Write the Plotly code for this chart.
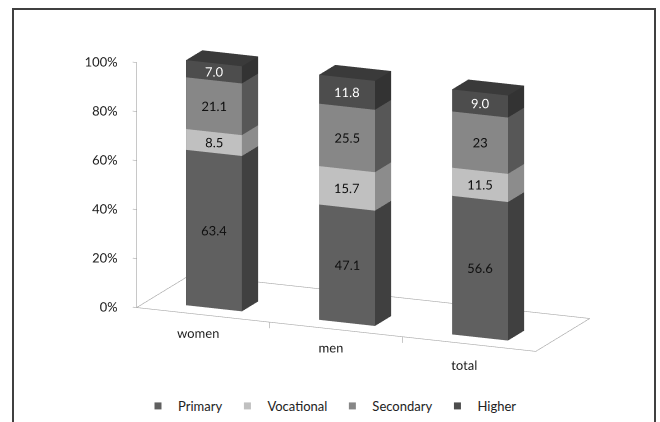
import math
import plotly.graph_objects as go

categories = ["women", "men", "total"]
series_names = ["Primary", "Vocational", "Secondary", "Higher"]
primary = [63.4, 47.1, 56.6]
vocational = [8.5, 15.7, 11.5]
secondary = [21.1, 25.5, 23.0]
higher = [7.0, 11.8, 9.0]
primary_labels = ["63.4", "47.1", "56.6"]
vocational_labels = ["8.5", "15.7", "11.5"]
secondary_labels = ["21.1", "25.5", "23"]
higher_labels = ["7.0", "11.8", "9.0"]
z_ticks = [0, 20, 40, 60, 80, 100]
z_ticktext = ["0%", "20%", "40%", "60%", "80%", "100%"]

series_values = [primary, vocational, secondary, higher]
series_labels = [primary_labels, vocational_labels, secondary_labels, higher_labels]
front_cols = ["#606060", "#c0c0c0", "#878787", "#4d4d4d"]
side_cols = ["#404040", "#8c8c8c", "#575757", "#333333"]
top_cols = ["#505050", "#a8a8a8", "#707070", "#3a3a3a"]
text_cols = ["#111111", "#111111", "#111111", "#ffffff"]

# geometry (styling)
BW = 0.42
Y0, Y1 = 0.2, 0.5
FLOOR_X = (-0.5, 2.5)
FLOOR_Y = (0.0, 1.0)
AX_X = (-0.9, 2.7)
AX_Y = (-0.45, 1.05)
AX_Z = (-4.0, 110.0)
SCALE = (0.728, 0.696, 1.278 / 100)     # normalized units per data unit
THETA, PHI, DIST = 23.0, 15.0, 4.0      # camera azimuth/elevation/distance
TARGET = (0.872, 0.2, 50.0)             # data point at viewport centre
FONT = "Lato"

mids = [(AX_X[0] + AX_X[1]) / 2, (AX_Y[0] + AX_Y[1]) / 2, (AX_Z[0] + AX_Z[1]) / 2]
lens = [AX_X[1] - AX_X[0], AX_Y[1] - AX_Y[0], AX_Z[1] - AX_Z[0]]
aspect = dict(x=lens[0] * SCALE[0], y=lens[1] * SCALE[1], z=lens[2] * SCALE[2])

def norm(p):
    return [(p[a] - mids[a]) * SCALE[a] for a in range(3)]

cen = norm(TARGET)
th, ph = math.radians(THETA), math.radians(PHI)
off = [DIST * math.sin(th) * math.cos(ph), -DIST * math.cos(th) * math.cos(ph), DIST * math.sin(ph)]
eye = [cen[a] + off[a] for a in range(3)]

def toward_eye(x, y, z, dy):
    d = [off[a] / SCALE[a] for a in range(3)]
    t = dy / abs(d[1])
    return x + d[0] * t, y + d[1] * t, z + d[2] * t

fig = go.Figure()

def box(x0, x1, y0, y1, z0, z1):
    vx = [x0, x1, x1, x0, x0, x1, x1, x0]
    vy = [y0, y0, y1, y1, y0, y0, y1, y1]
    vz = [z0, z0, z0, z0, z1, z1, z1, z1]
    i = [0, 0, 4, 4, 0, 0, 3, 3, 0, 0, 1, 1]
    j = [1, 2, 5, 6, 1, 5, 2, 6, 3, 7, 2, 6]
    k = [2, 3, 6, 7, 5, 4, 6, 7, 7, 4, 6, 5]
    return vx, vy, vz, i, j, k

for s, name in enumerate(series_names):
    xs, ys, zs = [], [], []
    for c in range(len(categories)):
        tot = sum(v[c] for v in series_values)
        base = sum(series_values[t][c] for t in range(s)) / tot * 100
        top = base + series_values[s][c] / tot * 100
        vx, vy, vz, i, j, k = box(c - BW / 2, c + BW / 2, Y0, Y1, base, top)
        fc = ([top_cols[s]] * 4 + [front_cols[s]] * 2 + [side_cols[s]] * 6)
        fig.add_trace(go.Mesh3d(
            x=vx, y=vy, z=vz, i=i, j=j, k=k, facecolor=fc, flatshading=True,
            lighting=dict(ambient=1, diffuse=0, specular=0, roughness=1, fresnel=0),
            hoverinfo="skip", showlegend=False, showscale=False))
        tx, ty, tz = toward_eye(c, Y0, (base + top) / 2, 0.3)
        xs.append(tx); ys.append(ty); zs.append(tz)
    fig.add_trace(go.Scatter3d(
        x=xs, y=ys, z=zs, mode="text", text=series_labels[s], textposition="middle center",
        textfont=dict(family=FONT, size=13, color=text_cols[s]),
        hoverinfo="skip", showlegend=False))
    fig.add_trace(go.Scatter3d(
        x=[None], y=[None], z=[None], mode="markers", name=name,
        marker=dict(symbol="square", size=7, color=front_cols[s])))

# floor outline and vertical axis line
fig.add_trace(go.Scatter3d(
    x=[FLOOR_X[0], FLOOR_X[1], FLOOR_X[1], FLOOR_X[0], FLOOR_X[0], FLOOR_X[0]],
    y=[FLOOR_Y[0], FLOOR_Y[0], FLOOR_Y[1], FLOOR_Y[1], FLOOR_Y[0], FLOOR_Y[0]],
    z=[0, 0, 0, 0, 0, 100],
    mode="lines", line=dict(color="#a6a6a6", width=1.2),
    hoverinfo="skip", showlegend=False))

# tick marks: z ticks to the left, category boundary ticks below the front edge
tx_, ty_, tz_ = [], [], []
for v in z_ticks:
    tx_ += [FLOOR_X[0] - 0.03, FLOOR_X[0], None]
    ty_ += [FLOOR_Y[0], FLOOR_Y[0], None]
    tz_ += [v, v, None]
for c in range(1, len(categories)):
    tx_ += [c - 0.5, c - 0.5, None]
    ty_ += [FLOOR_Y[0], FLOOR_Y[0], None]
    tz_ += [0, -2.5, None]
fig.add_trace(go.Scatter3d(
    x=tx_, y=ty_, z=tz_, mode="lines", line=dict(color="#a6a6a6", width=1.2),
    connectgaps=False, hoverinfo="skip", showlegend=False))

# z tick labels (screen aligned)
fig.add_trace(go.Scatter3d(
    x=[FLOOR_X[0] - 0.05] * len(z_ticks), y=[FLOOR_Y[0]] * len(z_ticks), z=z_ticks,
    mode="text", text=z_ticktext, textposition="middle left",
    textfont=dict(family=FONT, size=13, color="#222222"),
    hoverinfo="skip", showlegend=False))
# category labels
fig.add_trace(go.Scatter3d(
    x=list(range(len(categories))), y=[FLOOR_Y[0] - 0.1] * len(categories), z=[0] * len(categories),
    mode="text", text=categories, textposition="bottom center",
    textfont=dict(family=FONT, size=13, color="#222222"),
    hoverinfo="skip", showlegend=False))

axis_common = dict(showgrid=False, showbackground=False, zeroline=False,
                   showspikes=False, showticklabels=False, showline=False,
                   ticks="", title=dict(text=""))
fig.update_layout(
    width=660, height=422,
    margin=dict(l=0, r=0, t=0, b=0),
    paper_bgcolor="white",
    font=dict(family=FONT, size=12, color="#222222"),
    scene=dict(
        domain=dict(x=[0.0, 1.0], y=[0.06, 1.0]),
        xaxis=dict(range=list(AX_X), **axis_common),
        yaxis=dict(range=list(AX_Y), **axis_common),
        zaxis=dict(range=list(AX_Z), **axis_common),
        aspectmode="manual", aspectratio=aspect,
        camera=dict(eye=dict(x=eye[0], y=eye[1], z=eye[2]),
                    center=dict(x=cen[0], y=cen[1], z=cen[2]), up=dict(x=0, y=0, z=1),
                    projection=dict(type="orthographic")),
    ),
    legend=dict(orientation="h", x=0.5, xanchor="center", y=0.038, yanchor="middle",
                font=dict(family=FONT, size=13, color="#222222"),
                itemwidth=30, tracegroupgap=0),
    shapes=[dict(type="rect", xref="paper", yref="paper", x0=13 / 660, x1=655 / 660,
                 y0=-0.05, y1=1 - 9 / 422, line=dict(color="#404040", width=2))],
)

fig.write_html("out.html")
